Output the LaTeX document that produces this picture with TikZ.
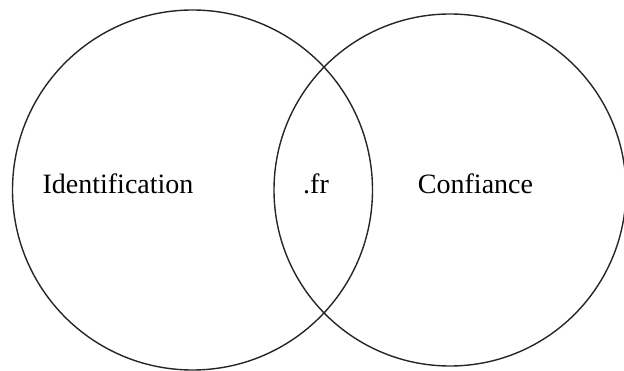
\documentclass[tikz,border=0pt]{standalone}
\usepackage{fontspec}
\setmainfont{Liberation Serif}
\begin{document}
\begin{tikzpicture}[x=1pt,y=1pt,
	ring/.style={draw=black!85,line width=1.4pt},
	label/.style={font=\fontsize{28}{34}\selectfont,anchor=base,inner sep=0pt}]
		
		\useasboundingbox (0,0) rectangle (624,370);
		\clip (0,0) rectangle (624,370);
		
		\coordinate (left) at (192.5,180);
		\coordinate (right) at (450,180);
		
		\draw[ring] (left) circle (180);
		\draw[ring] (right) circle (176);
		
		\node[label] (ident) at (118,176) {Identification};
		\node[label] (fr) at (316,176) {.fr};
		\node[label] (conf) at (475.5,176) {Confiance};
		
	\end{tikzpicture}
\end{document}
